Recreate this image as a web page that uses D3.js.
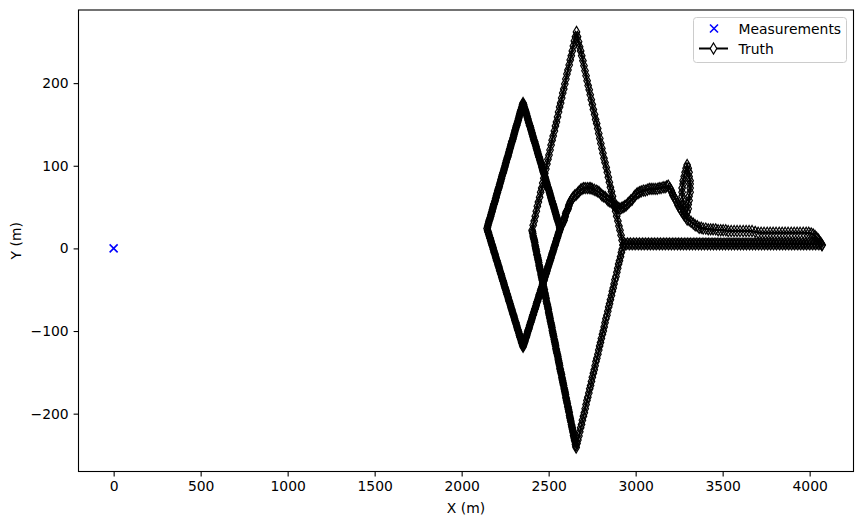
<!DOCTYPE html>
<html>
<head>
<meta charset="utf-8">
<script src="https://cdn.jsdelivr.net/npm/d3@7"></script>
<style>
body { margin: 0; background: #fff; }
text { font-family: "DejaVu Sans", sans-serif; }
</style>
</head>
<body>
<div id="graf"></div>
<script>
// I. Datos

measX = [0]
measY = [0]

// rombo izquierdo (denso)
trackA = [
 [2566,24],[2561,28],[2555,32],[2550,35],[2545,39],[2539,43],[2534,47],[2529,51],[2523,54],[2518,58],
 [2513,62],[2507,66],[2502,70],[2497,73],[2491,77],[2486,81],[2481,85],[2475,89],[2470,92],[2465,96],
 [2460,100],[2454,104],[2449,108],[2444,111],[2438,115],[2433,119],[2428,123],[2422,127],[2417,130],[2412,134],
 [2406,138],[2401,142],[2396,146],[2390,149],[2385,153],[2380,157],[2374,161],[2369,165],[2364,168],[2358,172],
 [2353,176],[2348,172],[2343,168],[2337,165],[2332,161],[2327,157],[2322,153],[2317,149],[2312,146],[2306,142],
 [2301,138],[2296,134],[2291,130],[2286,127],[2281,123],[2275,119],[2270,115],[2265,111],[2260,108],[2255,104],
 [2250,100],[2244,96],[2239,92],[2234,89],[2229,85],[2224,81],[2218,77],[2213,73],[2208,70],[2203,66],
 [2198,62],[2193,58],[2187,54],[2182,51],[2177,47],[2172,43],[2167,39],[2161,35],[2156,32],[2151,28],
 [2146,24],[2151,20],[2156,17],[2162,13],[2167,10],[2172,6],[2177,3],[2182,-1],[2187,-5],[2193,-8],
 [2198,-12],[2203,-15],[2208,-19],[2213,-22],[2218,-26],[2224,-30],[2229,-33],[2234,-37],[2239,-40],[2244,-44],
 [2250,-48],[2255,-51],[2260,-55],[2265,-58],[2270,-62],[2275,-65],[2281,-69],[2286,-73],[2291,-76],[2296,-80],
 [2301,-83],[2306,-87],[2312,-90],[2317,-94],[2322,-98],[2327,-101],[2332,-105],[2337,-108],[2343,-112],[2348,-115],
 [2353,-119],[2358,-115],[2364,-112],[2369,-108],[2374,-105],[2380,-101],[2385,-98],[2390,-94],[2396,-90],[2401,-87],
 [2406,-83],[2412,-80],[2417,-76],[2422,-73],[2428,-69],[2433,-65],[2438,-62],[2444,-58],[2449,-55],[2454,-51],
 [2460,-48],[2465,-44],[2470,-40],[2475,-37],[2481,-33],[2486,-30],[2491,-26],[2497,-22],[2502,-19],[2507,-15],
 [2513,-12],[2518,-8],[2523,-5],[2529,-1],[2534,3],[2539,6],[2545,10],[2550,13],[2555,17],[2561,20],[2566,24]
]

// segundo objetivo sobre el rombo izquierdo
trackA2 = [
 [2563,26],[2558,30],[2553,34],[2547,37],[2542,41],[2537,45],[2531,49],[2526,53],[2521,56],[2515,60],
 [2510,64],[2505,68],[2499,72],[2494,75],[2489,79],[2483,83],[2478,87],[2473,91],[2467,94],[2462,98],
 [2457,102],[2451,106],[2446,110],[2441,113],[2436,117],[2430,121],[2425,125],[2420,129],[2414,132],[2409,136],
 [2404,140],[2398,144],[2393,148],[2388,151],[2382,155],[2377,159],[2372,163],[2366,167],[2361,170],[2356,174],
 [2350,174],[2345,170],[2340,167],[2335,163],[2330,159],[2325,155],[2319,151],[2314,148],[2309,144],[2304,140],
 [2299,136],[2294,132],[2288,129],[2283,125],[2278,121],[2273,117],[2268,113],[2263,110],[2257,106],[2252,102],
 [2247,98],[2242,94],[2237,91],[2231,87],[2226,83],[2221,79],[2216,75],[2211,72],[2206,68],[2200,64],
 [2195,60],[2190,56],[2185,53],[2180,49],[2175,45],[2169,41],[2164,37],[2159,34],[2154,30],[2149,26],
 [2149,22],[2154,19],[2159,15],[2164,12],[2169,8],[2175,4],[2180,1],[2185,-3],[2190,-6],[2195,-10],
 [2200,-14],[2206,-17],[2211,-21],[2216,-24],[2221,-28],[2226,-31],[2231,-35],[2237,-39],[2242,-42],[2247,-46],
 [2252,-49],[2257,-53],[2262,-56],[2268,-60],[2273,-64],[2278,-67],[2283,-71],[2288,-74],[2293,-78],[2299,-81],
 [2304,-85],[2309,-89],[2314,-92],[2319,-96],[2324,-99],[2330,-103],[2335,-107],[2340,-110],[2345,-114],[2350,-117],
 [2356,-117],[2361,-114],[2366,-110],[2372,-107],[2377,-103],[2382,-99],[2388,-96],[2393,-92],[2398,-89],[2404,-85],
 [2409,-81],[2414,-78],[2420,-74],[2425,-71],[2430,-67],[2436,-64],[2441,-60],[2446,-56],[2452,-53],[2457,-49],
 [2462,-46],[2468,-42],[2473,-39],[2478,-35],[2483,-31],[2489,-28],[2494,-24],[2499,-21],[2505,-17],[2510,-14],
 [2515,-10],[2521,-6],[2526,-3],[2531,1],[2537,4],[2542,8],[2547,12],[2553,15],[2558,19],[2563,22]
]

// linea horizontal + rombo grande
trackB = [
 [4070,4],[4053,5],[4035,5],[4018,5],[4001,5],[3983,5],[3966,5],[3949,5],[3932,5],[3914,5],
 [3897,5],[3880,5],[3862,5],[3845,5],[3828,5],[3810,5],[3793,5],[3776,5],[3759,5],[3741,5],
 [3724,5],[3707,5],[3689,5],[3672,5],[3655,5],[3637,5],[3620,5],[3603,5],[3586,5],[3568,5],
 [3551,5],[3534,5],[3516,5],[3499,5],[3482,5],[3464,5],[3447,5],[3430,5],[3413,5],[3395,5],
 [3378,5],[3361,5],[3343,5],[3326,5],[3309,5],[3291,5],[3274,5],[3257,5],[3240,5],[3222,5],
 [3205,5],[3188,5],[3170,5],[3153,5],[3136,5],[3118,5],[3101,5],[3084,5],[3067,5],[3049,5],
 [3032,5],[3015,5],[2997,5],[2980,5],[2963,5],[2945,5],
 [2928,4],[2922,10],[2916,16],[2910,22],[2904,27],[2898,33],[2891,39],[2885,45],[2879,51],[2873,57],
 [2867,63],[2861,69],[2855,74],[2849,80],[2843,86],[2837,92],[2831,98],[2824,104],[2818,109],[2812,115],
 [2806,121],[2800,127],[2794,133],[2788,139],[2782,145],[2776,151],[2770,156],[2764,162],[2757,168],[2751,174],
 [2745,180],[2739,186],[2733,192],[2727,197],[2721,203],[2715,209],[2709,215],[2703,221],[2697,227],[2690,233],
 [2684,239],[2678,244],[2672,250],[2666,256],[2660,262],
 [2654,256],[2648,251],[2642,245],[2636,239],[2630,233],[2624,228],[2618,222],[2611,216],[2605,211],[2599,205],
 [2593,199],[2587,193],[2581,188],[2575,182],[2569,176],[2563,171],[2557,165],[2551,159],[2545,153],[2539,148],
 [2533,142],[2526,136],[2520,131],[2514,125],[2508,119],[2502,113],[2496,108],[2490,102],[2484,96],[2478,91],
 [2472,85],[2466,79],[2460,73],[2454,68],[2448,62],[2441,56],[2435,51],[2429,45],[2423,39],[2417,33],
 [2411,28],[2405,22],
 [2409,18],[2413,13],[2418,9],[2422,4],[2426,0],[2430,-4],[2435,-9],[2439,-13],[2443,-17],[2447,-22],
 [2451,-26],[2456,-31],[2460,-35],[2464,-39],[2468,-44],[2472,-48],[2477,-53],[2481,-57],[2485,-61],[2489,-66],
 [2494,-70],[2498,-74],[2502,-79],[2506,-83],[2510,-88],[2515,-92],[2519,-96],[2523,-101],[2527,-105],[2532,-110],
 [2536,-114],[2540,-118],[2544,-123],[2548,-127],[2553,-131],[2557,-136],[2561,-140],[2565,-145],[2569,-149],[2574,-153],
 [2578,-158],[2582,-162],[2586,-166],[2591,-171],[2595,-175],[2599,-180],[2603,-184],[2607,-188],[2612,-193],[2616,-197],
 [2620,-202],[2624,-206],[2628,-210],[2633,-215],[2637,-219],[2641,-223],[2645,-228],[2649,-232],[2654,-237],[2658,-241],
 [2663,-236],[2668,-232],[2674,-227],[2679,-222],[2684,-217],[2689,-213],[2694,-208],[2700,-203],[2705,-199],[2710,-194],
 [2715,-189],[2720,-184],[2725,-180],[2731,-175],[2736,-170],[2741,-166],[2746,-161],[2751,-156],[2757,-151],[2762,-147],
 [2767,-142],[2772,-137],[2777,-133],[2783,-128],[2788,-123],[2793,-118],[2798,-114],[2803,-109],[2809,-104],[2814,-100],
 [2819,-95],[2824,-90],[2829,-85],[2835,-81],[2840,-76],[2845,-71],[2850,-67],[2855,-62],[2861,-57],[2866,-52],
 [2871,-48],[2876,-43],[2881,-38],[2887,-34],[2892,-29],[2897,-24],[2902,-19],[2907,-15],[2913,-10],[2918,-5],
 [2923,-1],[2928,4]
]

// horizontal y lado inferior izquierdo (otro objetivo)
trackE = [
 [4061,6],[4044,6],[4027,6],[4009,6],[3992,6],[3975,6],[3958,6],[3940,6],[3923,6],[3906,6],
 [3888,6],[3871,6],[3854,6],[3836,6],[3819,6],[3802,6],[3784,6],[3767,6],[3750,6],[3733,6],
 [3715,6],[3698,6],[3681,6],[3663,6],[3646,6],[3629,6],[3612,6],[3594,6],[3577,6],[3560,6],
 [3542,6],[3525,6],[3508,6],[3490,6],[3473,6],[3456,6],[3439,6],[3421,6],[3404,6],[3387,6],
 [3369,6],[3352,6],[3335,6],[3317,6],[3300,6],[3283,6],[3265,6],[3248,6],[3231,6],[3214,6],
 [3196,6],[3179,6],[3162,6],[3144,6],[3127,6],[3110,6],[3093,6],[3075,6],[3058,6],[3041,6],
 [3023,6],[3006,6],[2989,6],[2971,6],[2954,6],[2937,6]
]
trackF = [
 [2407,20],[2411,15],[2416,11],[2420,7],[2424,2],[2428,-2],[2432,-7],[2437,-11],[2441,-15],[2445,-20],
 [2449,-24],[2454,-28],[2458,-33],[2462,-37],[2466,-42],[2470,-46],[2475,-50],[2479,-55],[2483,-59],[2487,-64],
 [2492,-68],[2496,-72],[2500,-77],[2504,-81],[2508,-85],[2513,-90],[2517,-94],[2521,-99],[2525,-103],[2529,-107],
 [2534,-112],[2538,-116],[2542,-121],[2546,-125],[2551,-129],[2555,-134],[2559,-138],[2563,-142],[2567,-147],[2572,-151],
 [2576,-156],[2580,-160],[2584,-164],[2589,-169],[2593,-173],[2597,-177],[2601,-182],[2605,-186],[2610,-191],[2614,-195],
 [2618,-199],[2622,-204],[2626,-208],[2631,-213],[2635,-217],[2639,-221],[2643,-226],[2648,-230],[2652,-234],[2656,-239]
]

// trayectoria curva
trackC = [
 [2566,24],[2578,29],[2589,34],[2595,39],[2601,44],[2612,48],[2618,53],[2629,58],[2641,62],[2658,65],
 [2675,69],[2692,72],[2710,73],[2733,73],[2750,72],[2773,70],[2790,68],[2807,64],[2825,62],[2842,58],
 [2859,56],[2876,52],[2894,50],[2911,48],[2928,50],[2945,52],[2963,56],[2980,59],[2997,64],[3014,67],
 [3032,69],[3055,70],[3078,72],[3100,72],[3124,72],[3146,73],[3169,74],[3187,76],[3204,70],[3215,64],
 [3233,58],[3244,52],[3261,46],[3279,40],[3296,35],[3319,32],[3342,28],[3365,25],[3388,24],[3417,23],
 [3445,23],[3474,22],[3503,22],[3532,21],[3566,21],[3600,21],[3635,21],[3669,21],[3704,19],[3738,19],
 [3773,19],[3807,19],[3842,19],[3876,19],[3911,19],[3945,19],[3980,19],[4009,18],[4031,15],[4049,11],
 [4060,7],[4072,4]
]
trackH = [
 [2572,27],[2584,32],[2592,37],[2598,42],[2607,46],[2615,51],[2624,56],[2635,60],[2650,64],[2667,67],
 [2684,71],[2701,73],[2722,73],[2742,73],[2762,71],[2782,69],[2799,66],[2816,63],[2834,60],[2851,57],
 [2868,54],[2885,51],[2903,49],[2920,49],[2937,51],[2954,54],[2972,58],[2989,62],[3006,66],[3023,68],
 [3044,70],[3067,71],[3089,72],[3112,72],[3135,73],[3158,74],[3178,75],[3196,73],[3210,67],[3224,61],
 [3239,55],[3253,49],[3270,43],[3288,38],[3308,34],[3331,30],[3354,27],[3377,25],[3403,24],[3431,23],
 [3460,23],[3489,22],[3518,22],[3549,21],[3583,21],[3618,21],[3652,21],[3687,20],[3721,19],[3756,19],
 [3790,19],[3825,19],[3859,19],[3894,19],[3928,19],[3963,19],[3995,19],[4020,17],[4040,13],[4055,9],
 [4066,6]
]

// pico
trackD = [
 [3279,44],[3279,48],[3273,53],[3273,58],[3267,63],[3267,68],[3267,73],[3273,78],[3273,82],[3279,87],
 [3284,92],[3290,97],[3296,101],[3302,97],[3307,92],[3307,87],[3313,82],[3313,78],[3313,73],[3313,68],
 [3307,63],[3307,58],[3302,53],[3302,48],[3296,44]
]

xTicks = [0, 500, 1000, 1500, 2000, 2500, 3000, 3500, 4000]
yTicks = [-200, -100, 0, 100, 200]

// II. Configuracion

ancho_total = 862
alto_total = 525
margins = { top: 10, left: 78.5, right: 8.5, bottom: 53.5 }
ancho = ancho_total - margins.left - margins.right
alto = alto_total - margins.top - margins.bottom

svg = d3.select('#graf').append('svg')
        .attr('width', ancho_total)
        .attr('height', alto_total)

g = svg.append('g')
        .attr('transform', `translate(${margins.left}, ${margins.top})`)

x = d3.scaleLinear().domain([-202, 4252]).range([0, ancho])
y = d3.scaleLinear().domain([-270, 288.5]).range([alto, 0])

fs = 13.9
fmt = d3.format('d')

// Ejes
xAxisGroup = g.append('g')
        .attr('transform', `translate(0, ${alto})`)
        .call(d3.axisBottom(x).tickValues(xTicks).tickFormat(fmt).tickSize(4.9).tickPadding(4.9))
yAxisGroup = g.append('g')
        .call(d3.axisLeft(y).tickValues(yTicks).tickFormat(fmt).tickSize(4.9).tickPadding(4.9))

g.selectAll('.domain').remove()
g.selectAll('.tick line').attr('stroke', '#000').attr('stroke-width', 1.1)
g.selectAll('.tick text').attr('fill', '#000').style('font-size', fs + 'px')
        .style('font-family', '"DejaVu Sans", sans-serif')

g.append('rect')
        .attr('width', ancho).attr('height', alto)
        .attr('fill', 'none').attr('stroke', '#000').attr('stroke-width', 1.1)

svg.append('text')
        .attr('x', margins.left + ancho / 2).attr('y', 513)
        .attr('text-anchor', 'middle').style('font-size', fs + 'px')
        .text('X (m)')
svg.append('text')
        .attr('transform', `translate(21, ${margins.top + alto / 2}) rotate(-90)`)
        .attr('text-anchor', 'middle').style('font-size', fs + 'px')
        .text('Y (m)')

// Marcadores
diamond = 'M0,-5.5L3.3,0L0,5.5L-3.3,0Z'
cruz = 'M-4,-4L4,4M-4,4L4,-4'

plot = g.append('g')

meas = measX.map((d, i) => [d, measY[i]])
plot.selectAll('.meas').data(meas).enter()
        .append('path')
        .attr('class', 'meas')
        .attr('d', cruz)
        .attr('transform', d => `translate(${x(d[0])}, ${y(d[1])})`)
        .attr('stroke', '#0000ff').attr('stroke-width', 1.6).attr('fill', 'none')

valueline = d3.line().x(d => x(d[0])).y(d => y(d[1]))

;[trackA, trackA2, trackB, trackE, trackF, trackC, trackH, trackD].forEach(function (t) {
        plot.append('path')
                .attr('d', valueline(t))
                .attr('fill', 'none').attr('stroke', '#000').attr('stroke-width', 2)
        plot.append('g').selectAll('path').data(t).enter()
                .append('path')
                .attr('d', diamond)
                .attr('transform', d => `translate(${x(d[0])}, ${y(d[1])})`)
                .attr('fill', 'none').attr('stroke', '#000').attr('stroke-width', 1.2)
})

// Leyenda
leg = svg.append('g')
leg.append('rect')
        .attr('x', 693.5).attr('y', 17.5).attr('width', 153).attr('height', 45)
        .attr('rx', 3).attr('fill', '#fff').attr('fill-opacity', 0.8)
        .attr('stroke', '#cccccc').attr('stroke-width', 1)
leg.append('path').attr('d', cruz)
        .attr('transform', 'translate(714, 28.5)')
        .attr('stroke', '#0000ff').attr('stroke-width', 1.6).attr('fill', 'none')
leg.append('line')
        .attr('x1', 699).attr('x2', 728).attr('y1', 48.5).attr('y2', 48.5)
        .attr('stroke', '#000').attr('stroke-width', 2)
leg.append('path').attr('d', diamond)
        .attr('transform', 'translate(713.5, 48.5)')
        .attr('fill', '#fff').attr('stroke', '#000').attr('stroke-width', 1.2)
leg.append('text').attr('x', 738.5).attr('y', 33.5)
        .style('font-size', fs + 'px').text('Measurements')
leg.append('text').attr('x', 738.5).attr('y', 53.5)
        .style('font-size', fs + 'px').text('Truth')
</script>
</body>
</html>
